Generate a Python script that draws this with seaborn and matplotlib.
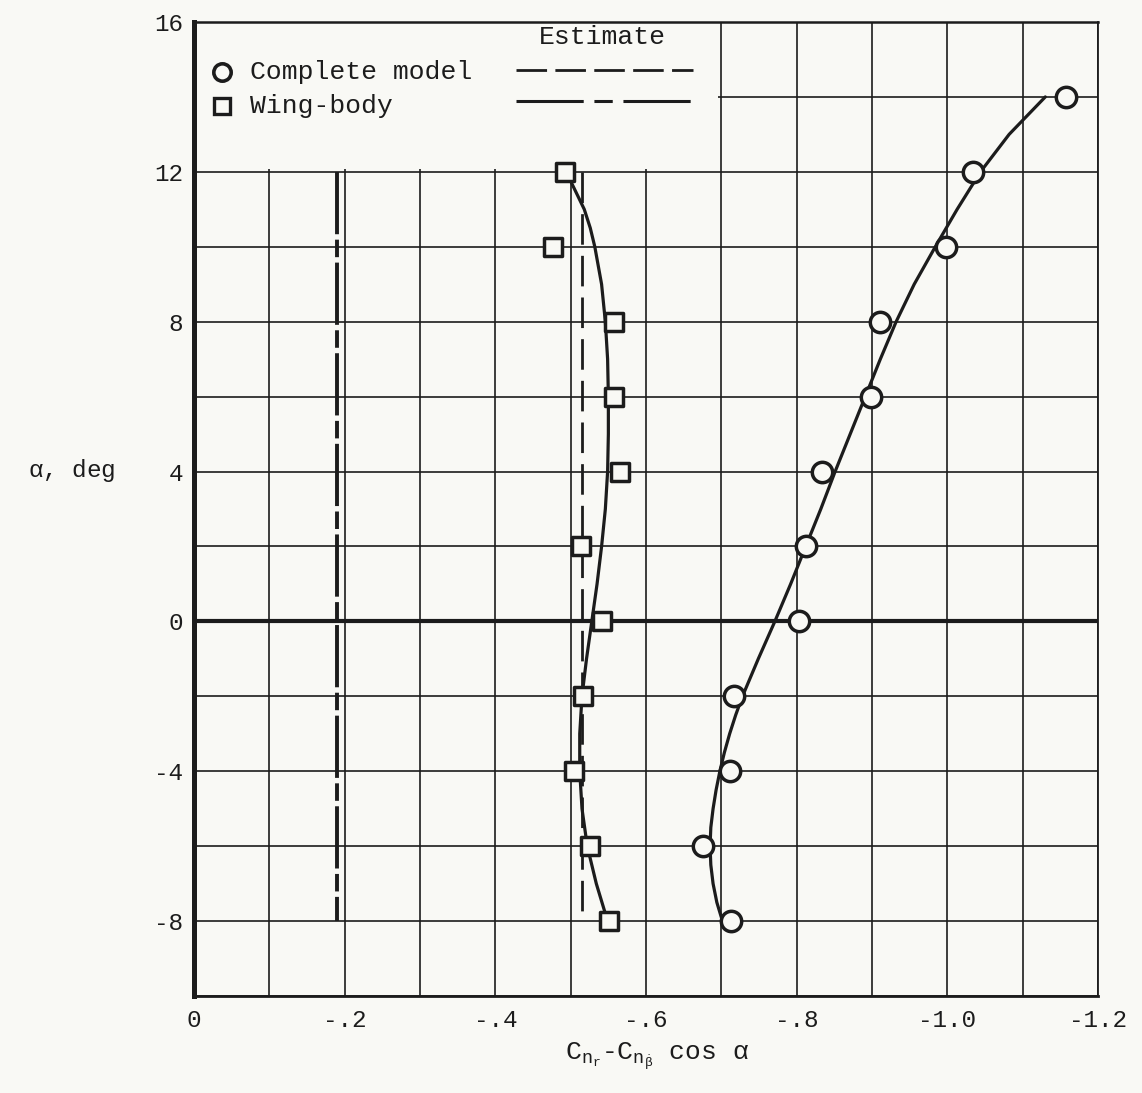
import numpy as np
import pandas as pd
import matplotlib
matplotlib.use("Agg")
import matplotlib.pyplot as plt
from matplotlib.patches import Rectangle
from matplotlib.ticker import FixedLocator, MultipleLocator
import seaborn as sns

# ---------------- data ----------------
# Complete model (circles)
cm_alpha = [14, 12, 10, 8, 6, 4, 2, 0, -2, -4, -6, -8]
cm_value = [-1.157, -1.034, -0.998, -0.910, -0.898, -0.833, -0.813, -0.803,
            -0.717, -0.712, -0.676, -0.713]
# Complete model faired curve
cm_curve_alpha = [-7.9, -7.5, -7, -6.5, -6, -5.5, -5, -4.5, -4, -3.5, -3,
                  -2.5, -2, -1, 0, 1, 2, 3, 4, 5, 6, 7, 8, 9, 10, 11, 12,
                  13, 14]
cm_curve_value = [-0.700, -0.694, -0.689, -0.686, -0.685, -0.686, -0.689,
                  -0.693, -0.698, -0.704, -0.711, -0.719, -0.728, -0.749,
                  -0.771, -0.792, -0.812, -0.832, -0.851, -0.871, -0.891,
                  -0.911, -0.932, -0.956, -0.984, -1.013, -1.044, -1.082,
                  -1.130]

# Wing-body (squares)
wb_alpha = [12, 10, 8, 6, 4, 2, 0, -2, -4, -6, -8]
wb_value = [-0.493, -0.476, -0.558, -0.557, -0.565, -0.514, -0.542, -0.516,
            -0.505, -0.526, -0.551]
# Wing-body faired curve
wb_curve_alpha = [11.75, 11.5, 11, 10.5, 10, 9, 8, 7, 6, 5, 4, 3, 2, 1, 0,
                  -1, -2, -3, -4, -5, -6, -7, -8]
wb_curve_value = [-0.500, -0.506, -0.518, -0.526, -0.532, -0.541, -0.546,
                  -0.549, -0.550, -0.550, -0.549, -0.546, -0.541, -0.535,
                  -0.528, -0.521, -0.515, -0.512, -0.512, -0.515, -0.522,
                  -0.534, -0.549]

# Estimates (vertical lines)
est_alpha = [12, -8]
est_complete = [-0.515, -0.515]
est_wingbody = [-0.19, -0.19]

# Ticks
x_ticks = [0, -0.2, -0.4, -0.6, -0.8, -1.0, -1.2]
x_tick_labels = ["0", "-.2", "-.4", "-.6", "-.8", "-1.0", "-1.2"]
y_ticks = [16, 12, 8, 4, 0, -4, -8]
y_tick_labels = ["16", "12", "8", "4", "0", "-4", "-8"]

# ---------------- style ----------------
sns.set_theme(style="white")
BG = "#f9f9f5"
INK = "#1c1c1c"
plt.rcParams["font.family"] = ["Liberation Mono", "DejaVu Sans"]
plt.rcParams["mathtext.fontset"] = "custom"
plt.rcParams["mathtext.rm"] = "Liberation Mono"
plt.rcParams["mathtext.it"] = "Liberation Mono"
plt.rcParams["mathtext.tt"] = "Liberation Mono"
plt.rcParams["mathtext.sf"] = "Liberation Mono"

fig = plt.figure(figsize=(11.42, 10.93), dpi=100, facecolor=BG)
ax = fig.add_axes([0.1699, 0.0887, 0.7916, 0.8912])
ax.set_facecolor(BG)

cm_df = pd.DataFrame({"value": cm_value, "alpha": cm_alpha})
wb_df = pd.DataFrame({"value": wb_value, "alpha": wb_alpha})
cmc_df = pd.DataFrame({"value": cm_curve_value, "alpha": cm_curve_alpha})
wbc_df = pd.DataFrame({"value": wb_curve_value, "alpha": wb_curve_alpha})

# faired curves
sns.lineplot(data=cmc_df, x="value", y="alpha", sort=False, estimator=None,
             color=INK, lw=2.3, ax=ax, zorder=3)
sns.lineplot(data=wbc_df, x="value", y="alpha", sort=False, estimator=None,
             color=INK, lw=2.3, ax=ax, zorder=3)
for ln in ax.get_lines():
    ln.set_solid_joinstyle("round")

# estimates
ax.plot(est_complete, est_alpha, color=INK, lw=2.0, dashes=(11, 4), zorder=2.5)
ax.plot(est_wingbody, est_alpha, color=INK, lw=2.8,
        dashes=(16, 1.4, 4.5, 1.4), zorder=2.5)

# data points
sns.scatterplot(data=cm_df, x="value", y="alpha", marker="o", s=215,
                facecolor=BG, edgecolor=INK, linewidth=2.5, ax=ax, zorder=4)
sns.scatterplot(data=wb_df, x="value", y="alpha", marker="s", s=185,
                facecolor=BG, edgecolor=INK, linewidth=2.5, ax=ax, zorder=4)

# axes
ax.set_xlim(0, -1.2)
ax.set_ylim(-10, 16)
ax.xaxis.set_major_locator(FixedLocator(x_ticks))
ax.set_xticklabels(x_tick_labels)
ax.xaxis.set_minor_locator(MultipleLocator(0.1))
ax.yaxis.set_major_locator(FixedLocator(y_ticks))
ax.set_yticklabels(y_tick_labels)
ax.yaxis.set_minor_locator(MultipleLocator(2))
ax.tick_params(axis="both", which="both", length=0, labelsize=17.5,
               colors=INK)
ax.tick_params(axis="x", pad=9)
ax.tick_params(axis="y", pad=8)
ax.set_axisbelow(True)
ax.grid(True, which="both", color=INK, lw=1.2)

# thick zero line
ax.axhline(0, color=INK, lw=3.0, zorder=1.5)

# blank legend area
ax.add_patch(Rectangle((-0.0005, 12.07), -0.6945, 4.0, facecolor=BG,
                       edgecolor="none", zorder=0.8))

for side, lw in (("left", 3.6), ("bottom", 2.0), ("top", 1.8), ("right", 1.3)):
    ax.spines[side].set_visible(True)
    ax.spines[side].set_color(INK)
    ax.spines[side].set_linewidth(lw)

ax.set_xlabel(r"C$_{n_r}$-C$_{n_{\dot{\beta}}}$ cos $\alpha$", fontsize=19,
              color=INK, va="center")
ax.xaxis.set_label_coords(0.512, -0.062)
ax.set_ylabel(r"$\alpha$, deg", fontsize=17.5, color=INK, rotation=0,
              ha="center", va="center")
ax.yaxis.set_label_coords(-0.135, 0.54)

# hand-drawn legend
tr = ax.transAxes
ax.plot([0.031], [0.949], marker="o", ms=12.5, mfc=BG, mec=INK, mew=2.6,
        transform=tr, zorder=5, clip_on=False)
ax.plot([0.031], [0.914], marker="s", ms=11.5, mfc=BG, mec=INK, mew=2.4,
        transform=tr, zorder=5, clip_on=False)
ax.text(0.062, 0.949, "Complete model", transform=tr, fontsize=19,
        color=INK, va="center", ha="left")
ax.text(0.062, 0.914, "Wing-body", transform=tr, fontsize=19,
        color=INK, va="center", ha="left")
ax.text(0.452, 0.985, "Estimate", transform=tr, fontsize=19,
        color=INK, va="center", ha="center")
ax.plot([0.356, 0.552], [0.951, 0.951], color=INK, lw=2.0, dashes=(11, 3),
        transform=tr, zorder=5)
ax.plot([0.356, 0.552], [0.919, 0.919], color=INK, lw=2.2,
        dashes=(22, 3.5, 6, 3.5), transform=tr, zorder=5)

fig.savefig("out.png", dpi=100, facecolor=BG)
